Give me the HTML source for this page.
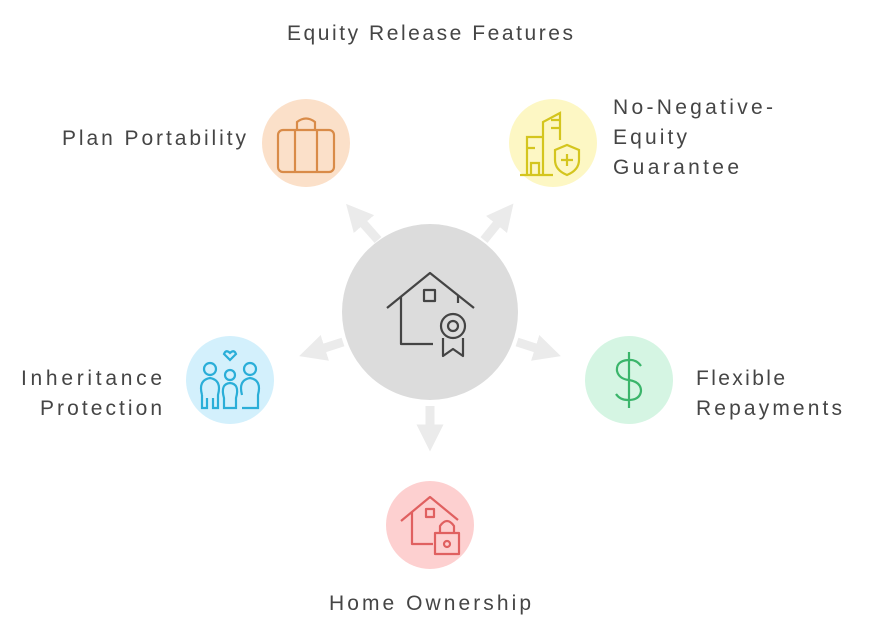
<!DOCTYPE html>
<html><head><meta charset="utf-8"><style>
body{margin:0;background:#fff;width:873px;height:631px;overflow:hidden}
svg text{font-family:"Liberation Sans",sans-serif;font-size:21px;fill:#454545}
</style></head><body>
<svg width="873" height="631" viewBox="0 0 873 631">
<defs><marker id="ah" markerWidth="3" markerHeight="3" refX="1.5" refY="1.5" orient="auto" markerUnits="strokeWidth"><path d="M0,0 L3,1.5 L0,3Z" fill="#ebebeb"/></marker></defs>
<g stroke="#ebebeb" stroke-width="9" marker-end="url(#ah)">
<line x1="430" y1="406" x2="430" y2="438"/>
<line x1="343" y1="342" x2="312" y2="352"/>
<line x1="517" y1="342" x2="548" y2="352"/>
<line x1="378" y1="240" x2="355" y2="214"/>
<line x1="484" y1="240" x2="505" y2="214"/>
</g>
<circle cx="430" cy="312" r="88" fill="#dcdcdc"/>
<circle cx="306" cy="143" r="44" fill="#fbe0c9"/>
<circle cx="553" cy="143" r="44" fill="#fdf7c4"/>
<circle cx="230" cy="380" r="44" fill="#d3f0fc"/>
<circle cx="629" cy="380" r="44" fill="#d5f5e3"/>
<circle cx="430" cy="525" r="44" fill="#fdd0d0"/>
<g fill="none" stroke="#444" stroke-width="2.2" stroke-linejoin="round">
<path d="M387,308 L430,273 L474,308"/><path d="M401,296 V344 H433"/><rect x="424" y="290" width="11" height="11"/>
<path d="M458,295 V303"/><circle cx="453" cy="326" r="12"/><circle cx="453" cy="326" r="5"/>
<path d="M443,338 V356 L453,349 L463,356 V338"/>
</g>
<g fill="none" stroke="#d98b48" stroke-width="2.2"><rect x="278" y="130" width="56" height="42" rx="5"/><path d="M295,130 V172 M317,130 V172 M297,130 V122 Q306,115 315,122 V130"/></g>
<g fill="none" stroke="#d4c51e" stroke-width="2.2"><path d="M527,175 V137 H543 V175 M543,175 V122 L560,113 V140 M551,128 H560 M551,120 H560 M527,148 H535 M531,175 V163 H539 V175 M520,175 H553"/><path d="M555,150 L567,145 L579,150 V160 Q579,170 567,175 Q555,170 555,160Z M567,154 V166 M561,160 H573"/></g>
<g fill="none" stroke="#2aaed8" stroke-width="2.2"><circle cx="210" cy="369" r="6"/><circle cx="230" cy="375" r="5"/><circle cx="250" cy="369" r="6"/><path d="M202,395 Q198,380 210,378 Q222,380 218,395 V408 H213 V398 M207,398 V408 H202 V395"/><path d="M224,398 Q220,384 230,383 Q240,384 236,398 V408 H224Z"/><path d="M242,395 Q238,380 250,378 Q262,380 258,395 V408 H242"/><path d="M230,360 L224,354 Q226,349 230,353 Q234,349 236,354Z"/></g>
<g fill="none" stroke="#3bb56b" stroke-width="2.2"><path d="M629,352 V408 M641,366 Q636,359 628,360 Q616,361 617,371 Q619,379 629,380 Q641,382 641,391 Q640,400 628,400 Q620,400 616,394"/></g>
<g fill="none" stroke="#e06060" stroke-width="2.2" stroke-linejoin="round"><path d="M401,521 L430,497 L458,520"/><path d="M412,512 V544 H433"/><rect x="426" y="509" width="8" height="8"/><rect x="435" y="533" width="24" height="21"/><path d="M440,533 V526 Q447,516 454,526 V533"/><circle cx="447" cy="544" r="3"/></g>
<text x="287" y="40" textLength="286" lengthAdjust="spacing">Equity Release Features</text>
<text x="62" y="145" textLength="184" lengthAdjust="spacing">Plan Portability</text>
<text x="613" y="114" textLength="160" lengthAdjust="spacing">No-Negative-</text>
<text x="613" y="144" textLength="74" lengthAdjust="spacing">Equity</text>
<text x="613" y="174" textLength="126" lengthAdjust="spacing">Guarantee</text>
<text x="21" y="385" textLength="141" lengthAdjust="spacing">Inheritance</text>
<text x="40" y="415" textLength="122" lengthAdjust="spacing">Protection</text>
<text x="696" y="385" textLength="89" lengthAdjust="spacing">Flexible</text>
<text x="696" y="415" textLength="146" lengthAdjust="spacing">Repayments</text>
<text x="329" y="610" textLength="202" lengthAdjust="spacing">Home Ownership</text>
</svg>
</body></html>
